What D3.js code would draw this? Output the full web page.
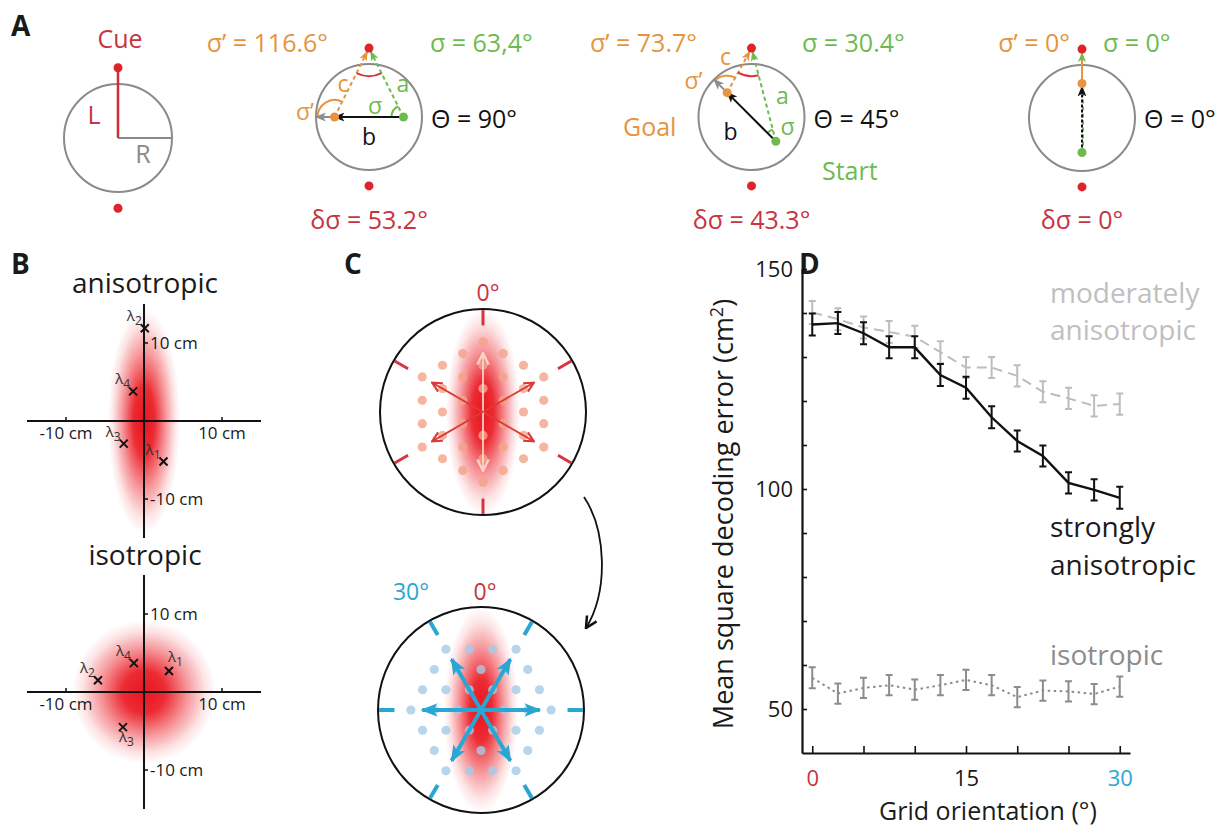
<!DOCTYPE html>
<html>
<head>
<meta charset="utf-8">
<script src="https://cdn.jsdelivr.net/npm/d3@7"></script>
<style>
  body { margin: 0; background: #fff; }
  svg text { font-family: "Open Sans", sans-serif; }
</style>
</head>
<body>
<svg id="fig"></svg>
<script>
/* DATA */
// panel A : three example trajectories
const thetaValues = [90, 45, 0];
const thetaLabels = ["Θ = 90°", "Θ = 45°", "Θ = 0°"];
const sigmaLabels = ["σ = 63,4°", "σ = 30.4°", "σ = 0°"];
const sigmaPrimeLabels = ["σ’ = 116.6°", "σ’ = 73.7°", "σ’ = 0°"];
const deltaSigmaLabels = ["δσ = 53.2°", "δσ = 43.3°", "δσ = 0°"];
const cueLength = 1.3;     // L, in units of R
const startOffset = 0.65;  // start / goal distance from centre, units of R

// panel B : field centres (cm)
const fieldNames = ["1", "2", "3", "4"];
const anisoX = [2.5, 0.1, -2.6, -1.4];
const anisoY = [-5.2, 11.9, -2.9, 3.8];
const isoX = [3.2, -5.9, -2.7, -1.3];
const isoY = [2.7, 1.5, -4.5, 3.7];
const bTicks = [-10, 10];

// panel C : grid orientations
const gridAngles = [0, 30];
const hexRadius = 3;

// panel D
const gridOrientation = [0, 2.5, 5, 7.5, 10, 12.5, 15, 17.5, 20, 22.5, 25, 27.5, 30];
const strongMean = [137.4, 137.7, 135.4, 132.2, 132.2, 125.9, 123.0, 116.3, 110.9, 107.5, 101.4, 99.8, 98.0];
const strongErr = [2.5, 2.5, 2.5, 2.5, 2.5, 2.5, 2.5, 2.5, 2.4, 2.4, 2.4, 2.4, 2.5];
const moderateMean = [140.1, 138.6, 136.7, 135.7, 134.6, 131.1, 127.6, 127.6, 125.7, 122.1, 120.6, 118.9, 119.3];
const moderateErr = [2.6, 2.5, 2.5, 2.5, 2.5, 2.5, 2.4, 2.4, 2.4, 2.4, 2.4, 2.4, 2.4];
const isoMean = [57.1, 53.5, 54.8, 55.4, 54.4, 55.4, 56.6, 55.4, 52.7, 54.2, 54.0, 53.4, 55.1];
const isoErr = [2.4, 2.3, 2.3, 2.3, 2.3, 2.3, 2.3, 2.3, 2.3, 2.3, 2.3, 2.3, 2.3];
const yTickValues = [50, 60, 70, 80, 90, 100, 110, 120, 130, 140, 150];
const yTickLabels = [50, 100, 150];
const xTickValues = [0, 5, 10, 15, 20, 25, 30];
const xTickLabels = [0, 15, 30];

/* COLOURS */
const red = "#e0222b", redText = "#c8343f", orange = "#e6943f", green = "#6dbb4f",
  gray = "#8a8a8a", cyan = "#2aa6d3", black = "#111";

const svg = d3.select("#fig").attr("width", 1218).attr("height", 828);
const defs = svg.append("defs");

function marker(id, color, size, open) {
  const m = defs.append("marker").attr("id", id)
    .attr("viewBox", "0 0 10 10").attr("refX", 9).attr("refY", 5)
    .attr("markerWidth", size).attr("markerHeight", size)
    .attr("markerUnits", "userSpaceOnUse").attr("orient", "auto");
  if (open) m.append("path").attr("d", "M1,1 L9,5 L1,9").attr("fill", "none")
    .attr("stroke", color).attr("stroke-width", 1.8);
  else m.append("path").attr("d", "M0,1 L10,5 L0,9 L2.5,5 Z").attr("fill", color);
}
marker("mBlack", black, 11);
marker("mGray", "#8d8d8d", 11);
marker("mGreen", green, 10);
marker("mOrange", orange, 10);
marker("mCyan", cyan, 17);
marker("mRed", "#dc3b35", 12, true);
marker("mPink", "#fbd2c6", 14, true);
marker("mCurve", black, 14, true);

function glow(id) {
  const g = defs.append("radialGradient").attr("id", id);
  [[0, 1], [0.3, 0.9], [0.6, 0.45], [0.85, 0.12], [1, 0]].forEach(([o, a]) =>
    g.append("stop").attr("offset", o).attr("stop-color", "#ea141d").attr("stop-opacity", a));
}
glow("redGlow");

function letter(t, x, y) {
  svg.append("text").attr("x", x).attr("y", y).text(t)
    .style("font-size", "28px").style("font-weight", 700).attr("fill", "#1a1a1a");
}
letter("A", 11, 36); letter("B", 11, 274); letter("C", 344, 274); letter("D", 799, 274);

/* PANEL A */
function txt(g, t, x, y, color, size, anchor) {
  return g.append("text").attr("x", x).attr("y", y).text(t).attr("fill", color)
    .style("font-size", size + "px").attr("text-anchor", anchor || "start");
}
const gA = svg.append("g");
// schematic circle
{
  const cx = 118, cy = 138, R = 54;
  const sx = d3.scaleLinear().domain([-1, 1]).range([cx - R, cx + R]);
  const sy = d3.scaleLinear().domain([-1, 1]).range([cy - R, cy + R]);
  gA.append("circle").attr("cx", cx).attr("cy", cy).attr("r", R)
    .attr("fill", "none").attr("stroke", gray).attr("stroke-width", 2);
  gA.append("line").attr("x1", sx(0)).attr("y1", sy(0)).attr("x2", sx(1)).attr("y2", sy(0))
    .attr("stroke", gray).attr("stroke-width", 2);
  gA.append("line").attr("x1", sx(0)).attr("y1", sy(0)).attr("x2", sx(0)).attr("y2", sy(-cueLength))
    .attr("stroke", "#d42b36").attr("stroke-width", 2.5);
  [-cueLength, cueLength].forEach(v => gA.append("circle").attr("cx", sx(0)).attr("cy", sy(v))
    .attr("r", 4.5).attr("fill", red));
  txt(gA, "Cue", 120, 48, redText, 25, "middle");
  txt(gA, "L", 94, 124, redText, 25, "middle");
  txt(gA, "R", 143, 163, gray, 25, "middle");
}

const caseCenters = [[369, 117], [751.5, 117], [1082, 118]];
const sigmaPrimeRight = [328, 697, 1070];
const sigmaLeft = [430, 802, 1103];
const smallLabelPos = [
  { c: [-26, -25], a: [34, -25], b: [0, 28], s: [6, -3], sp: [-64, 3] },
  { c: [-26, -52], a: [31, -13], b: [-21, 23], s: [36, 18], sp: [-58, -28] },
  null
];
function toward(p, q, d) { // point at distance d from q, toward p
  const dx = p[0] - q[0], dy = p[1] - q[1], L = Math.hypot(dx, dy);
  return [q[0] + dx / L * d, q[1] + dy / L * d];
}
function arcPath(c, r, p1, p2) {
  const a1 = Math.atan2(p1[1] - c[1], p1[0] - c[0]);
  const a2 = Math.atan2(p2[1] - c[1], p2[0] - c[0]);
  let diff = a2 - a1;
  while (diff > Math.PI) diff -= 2 * Math.PI;
  while (diff < -Math.PI) diff += 2 * Math.PI;
  const s = [c[0] + r * Math.cos(a1), c[1] + r * Math.sin(a1)];
  const e = [c[0] + r * Math.cos(a2), c[1] + r * Math.sin(a2)];
  return `M${s[0]},${s[1]} A${r},${r} 0 0 ${diff > 0 ? 1 : 0} ${e[0]},${e[1]}`;
}

thetaValues.forEach((theta, i) => {
  const [cx, cy] = caseCenters[i], R = 53;
  const sx = d3.scaleLinear().domain([-1, 1]).range([cx - R, cx + R]);
  const sy = d3.scaleLinear().domain([-1, 1]).range([cy - R, cy + R]);
  const t = theta * Math.PI / 180, d = [-Math.sin(t), -Math.cos(t)];
  const start = [sx(-startOffset * d[0]), sy(-startOffset * d[1])];
  const goal = [sx(startOffset * d[0]), sy(startOffset * d[1])];
  const edge = [sx(d[0]), sy(d[1])];
  const cue = [sx(0), sy(-cueLength)];
  const g = gA.append("g");

  g.append("circle").attr("cx", cx).attr("cy", cy).attr("r", R)
    .attr("fill", "none").attr("stroke", gray).attr("stroke-width", 2);

  if (theta !== 0) {
    const tipA = toward(start, cue, 4), tipC = toward(goal, cue, 4);
    g.append("line").attr("x1", start[0]).attr("y1", start[1]).attr("x2", tipA[0]).attr("y2", tipA[1])
      .attr("stroke", green).attr("stroke-width", 2).attr("stroke-dasharray", "4,3").attr("marker-end", "url(#mGreen)");
    g.append("line").attr("x1", goal[0]).attr("y1", goal[1]).attr("x2", tipC[0]).attr("y2", tipC[1])
      .attr("stroke", orange).attr("stroke-width", 2).attr("stroke-dasharray", "4,3").attr("marker-end", "url(#mOrange)");
    // angles
    g.append("path").attr("d", arcPath(cue, 28, start, goal)).attr("fill", "none").attr("stroke", "#d9343c").attr("stroke-width", 2);
    g.append("path").attr("d", arcPath(start, 12, goal, cue)).attr("fill", "none").attr("stroke", green).attr("stroke-width", 2);
    const ahead = [goal[0] + d[0] * 10, goal[1] + d[1] * 10];
    g.append("path").attr("d", arcPath(goal, 17, cue, ahead)).attr("fill", "none").attr("stroke", orange).attr("stroke-width", 2);
    // movement
    g.append("line").attr("x1", goal[0]).attr("y1", goal[1]).attr("x2", edge[0]).attr("y2", edge[1])
      .attr("stroke", "#8d8d8d").attr("stroke-width", 2).attr("marker-end", "url(#mGray)");
    g.append("line").attr("x1", start[0]).attr("y1", start[1]).attr("x2", goal[0]).attr("y2", goal[1])
      .attr("stroke", black).attr("stroke-width", 2).attr("marker-end", "url(#mBlack)");
    const p = smallLabelPos[i];
    txt(g, "c", cx + p.c[0], cy + p.c[1], orange, 23, "middle");
    txt(g, "a", cx + p.a[0], cy + p.a[1], green, 23, "middle");
    txt(g, "b", cx + p.b[0], cy + p.b[1], black, 23, "middle");
    txt(g, "σ", cx + p.s[0], cy + p.s[1], green, 23, "middle");
    txt(g, "σ’", cx + p.sp[0], cy + p.sp[1], orange, 23, "middle");
  } else {
    const tip = toward(goal, cue, 4);
    g.append("line").attr("x1", goal[0]).attr("y1", goal[1]).attr("x2", tip[0]).attr("y2", tip[1])
      .attr("stroke", orange).attr("stroke-width", 2).attr("marker-end", "url(#mGreen)");
    g.append("line").attr("x1", start[0] + 1).attr("y1", start[1]).attr("x2", goal[0] + 1).attr("y2", goal[1] + 6)
      .attr("stroke", green).attr("stroke-width", 2).attr("stroke-dasharray", "4,3");
    g.append("line").attr("x1", start[0]).attr("y1", start[1]).attr("x2", goal[0]).attr("y2", goal[1] + 3)
      .attr("stroke", black).attr("stroke-width", 2).attr("stroke-dasharray", "3,2").attr("marker-end", "url(#mBlack)");
  }
  g.append("circle").attr("cx", cue[0]).attr("cy", cue[1]).attr("r", 4.5).attr("fill", red);
  g.append("circle").attr("cx", sx(0)).attr("cy", sy(cueLength)).attr("r", 4.5).attr("fill", red);
  g.append("circle").attr("cx", start[0]).attr("cy", start[1]).attr("r", 4.5).attr("fill", green);
  g.append("circle").attr("cx", goal[0]).attr("cy", goal[1]).attr("r", 4.5).attr("fill", orange);

  txt(g, sigmaPrimeLabels[i], sigmaPrimeRight[i], 52, orange, 25, "end");
  txt(g, sigmaLabels[i], sigmaLeft[i], 52, green, 25, "start");
  txt(g, thetaLabels[i], cx + 62, 128, black, 25, "start");
  txt(g, deltaSigmaLabels[i], cx, 229, redText, 25, "middle");
  if (theta === 45) {
    txt(g, "Goal", 623, 136, orange, 25, "start");
    txt(g, "Start", 822, 180, green, 25, "start");
  }
});

/* PANEL B */
function fieldPanel(oy, title, titleY, xs, ys, rx, ry, labelPos) {
  const g = svg.append("g");
  const x = d3.scaleLinear().domain([-15, 15]).range([27, 261]);
  const y = d3.scaleLinear().domain([-15, 15]).range([oy + 117, oy - 117]);
  txt(g, title, 145, titleY, "#1a1a1a", 28, "middle");
  g.append("ellipse").attr("cx", x(0)).attr("cy", y(0))
    .attr("rx", x(rx) - x(0)).attr("ry", y(0) - y(ry)).attr("fill", "url(#redGlow)");
  g.append("line").attr("x1", x(-15)).attr("x2", x(15)).attr("y1", y(0)).attr("y2", y(0))
    .attr("stroke", black).attr("stroke-width", 2);
  g.append("line").attr("x1", x(0)).attr("x2", x(0)).attr("y1", y(15)).attr("y2", y(-15))
    .attr("stroke", black).attr("stroke-width", 2);
  bTicks.forEach(v => {
    g.append("line").attr("x1", x(v)).attr("x2", x(v)).attr("y1", y(0)).attr("y2", y(0) - 4).attr("stroke", black).attr("stroke-width", 1.5);
    g.append("line").attr("x1", x(0)).attr("x2", x(0) + 4).attr("y1", y(v)).attr("y2", y(v)).attr("stroke", black).attr("stroke-width", 1.5);
    txt(g, v + " cm", x(v), y(0) + 18, "#1a1a1a", 17, "middle");
    txt(g, v + " cm", x(0) + 6, y(v) + 6, "#1a1a1a", 17, "start");
  });
  xs.forEach((v, k) => {
    const px = x(v), py = y(ys[k]);
    g.append("path").attr("d", `M${px - 4},${py - 4}L${px + 4},${py + 4}M${px - 4},${py + 4}L${px + 4},${py - 4}`)
      .attr("stroke", black).attr("stroke-width", 2);
    const pos = labelPos[k];
    let lx = px - 3, ly = py - 7, anchor = "end";
    if (pos === "ur") { lx = px - 1; ly = py - 9; anchor = "start"; }
    if (pos === "below") { lx = px - 4; ly = py + 15; anchor = "start"; }
    const t = g.append("text").attr("x", lx).attr("y", ly).attr("text-anchor", anchor)
      .attr("fill", "#333").style("font-size", "15px");
    t.append("tspan").text("λ");
    t.append("tspan").attr("dy", 4).style("font-size", "12px").text(fieldNames[k]);
  });
}
fieldPanel(421, "anisotropic", 293, anisoX, anisoY, 4.6, 14.5, ["ul", "ul", "ul", "ul"]);
fieldPanel(692, "isotropic", 565, isoX, isoY, 9.2, 9.2, ["ur", "ul", "below", "ul"]);

/* PANEL C */
const cCenters = [[483, 412], [481, 710]];
gridAngles.forEach((ang, i) => {
  const [cx, cy] = cCenters[i], r = 103;
  const sx = d3.scaleLinear().domain([-1, 1]).range([cx - r, cx + r]);
  const sy = d3.scaleLinear().domain([-1, 1]).range([cy - r, cy + r]);
  const g = svg.append("g");
  const tickColor = i === 0 ? "#d9333f" : cyan;
  const dotColor = i === 0 ? "#f3a48a" : "#a5cbe6";
  const dir = phi => [Math.sin(phi * Math.PI / 180), -Math.cos(phi * Math.PI / 180)];

  g.append("ellipse").attr("cx", sx(0)).attr("cy", sy(0))
    .attr("rx", sx(0.36) - sx(0)).attr("ry", sy(1.0) - sy(0)).attr("fill", "url(#redGlow)");

  // hexagonal lattice of grid fields
  const sp = 0.227, a1 = dir(ang), a2 = dir(ang + 60), pts = [];
  for (let m = -hexRadius; m <= hexRadius; m++)
    for (let n = -hexRadius; n <= hexRadius; n++)
      if (Math.abs(m + n) <= hexRadius && !(m === 0 && n === 0))
        pts.push([sp * (m * a1[0] + n * a2[0]), sp * (m * a1[1] + n * a2[1])]);
  g.selectAll(".dot").data(pts).join("circle")
    .attr("cx", p => sx(p[0])).attr("cy", p => sy(p[1])).attr("r", 4.6)
    .attr("fill", dotColor).attr("fill-opacity", 0.8);

  g.append("circle").attr("cx", cx).attr("cy", cy).attr("r", r)
    .attr("fill", "none").attr("stroke", black).attr("stroke-width", 2);

  for (let k = 0; k < 6; k++) {
    const u = dir(ang + k * 60);
    g.append("line").attr("x1", sx(u[0] * 0.84)).attr("y1", sy(u[1] * 0.84))
      .attr("x2", sx(u[0] * 0.99)).attr("y2", sy(u[1] * 0.99))
      .attr("stroke", tickColor).attr("stroke-width", i === 0 ? 3 : 4);
    const vertical = i === 0 && (k === 0 || k === 3);
    g.append("line").attr("x1", sx(0)).attr("y1", sy(0))
      .attr("x2", sx(u[0] * 0.57)).attr("y2", sy(u[1] * 0.57))
      .attr("stroke", i === 0 ? (vertical ? "#fbd2c6" : "#dc3b35") : cyan)
      .attr("stroke-width", i === 0 ? 1.8 : 4)
      .attr("marker-end", i === 0 ? (vertical ? "url(#mPink)" : "url(#mRed)") : "url(#mCyan)");
  }
});
txt(svg, "0°", 488, 301, redText, 23, "middle");
txt(svg, "30°", 411, 600, cyan, 23, "middle");
txt(svg, "0°", 485, 600, redText, 23, "middle");
svg.append("path").attr("d", "M584,497 C606,530 609,590 586,628")
  .attr("fill", "none").attr("stroke", black).attr("stroke-width", 1.8).attr("marker-end", "url(#mCurve)");

/* PANEL D */
const xD = d3.scaleLinear().domain([-1, 31]).range([802, 1130]);
const yD = d3.scaleLinear().domain([40, 150]).range([753, 269]);

const gy = svg.append("g").attr("transform", "translate(802,0)")
  .call(d3.axisLeft(yD).tickValues(yTickValues).tickSizeInner(-5).tickSizeOuter(0).tickPadding(9)
    .tickFormat(d => yTickLabels.includes(d) ? d : ""));
const gx = svg.append("g").attr("transform", "translate(0,753)")
  .call(d3.axisBottom(xD).tickValues(xTickValues).tickSizeInner(-7).tickSizeOuter(0).tickPadding(17)
    .tickFormat(d => xTickLabels.includes(d) ? d : ""));
[gx, gy].forEach(a => {
  a.select(".domain").attr("stroke", black).attr("stroke-width", 2.2);
  a.selectAll(".tick line").attr("stroke", black).attr("stroke-width", 1.6);
  a.selectAll(".tick text").style("font-size", "22px").attr("fill", "#1a1a1a");
});
gx.selectAll(".tick text").attr("fill", d => d === 0 ? redText : d === 30 ? "#2aa7cf" : "#1a1a1a");

const yl = svg.append("text").attr("transform", "translate(733,514) rotate(-90)")
  .attr("text-anchor", "middle").attr("fill", "#1a1a1a").style("font-size", "27px");
yl.append("tspan").text("Mean square decoding error (cm");
yl.append("tspan").attr("dy", -10).style("font-size", "18px").text("2");
yl.append("tspan").attr("dy", 10).text(")");
txt(svg, "Grid orientation (°)", 988, 820, "#1a1a1a", 25, "middle");

const series = [
  { mean: moderateMean, err: moderateErr, color: "#bdbdbd", dash: "10,6", width: 2 },
  { mean: strongMean, err: strongErr, color: black, dash: null, width: 2.4 },
  { mean: isoMean, err: isoErr, color: "#8c8c8c", dash: "2.5,3.5", width: 2 }
];
const line = d3.line().x((d, k) => xD(gridOrientation[k])).y(d => yD(d));
series.forEach(s => {
  const g = svg.append("g");
  g.append("path").datum(s.mean).attr("d", line).attr("fill", "none")
    .attr("stroke", s.color).attr("stroke-width", s.width).attr("stroke-dasharray", s.dash);
  s.mean.forEach((m, k) => {
    const x = xD(gridOrientation[k]);
    g.append("path")
      .attr("d", `M${x},${yD(m - s.err[k])}V${yD(m + s.err[k])}M${x - 3.5},${yD(m - s.err[k])}h7M${x - 3.5},${yD(m + s.err[k])}h7`)
      .attr("stroke", s.color).attr("stroke-width", 2).attr("fill", "none");
  });
});
txt(svg, "moderately", 1050, 303, "#bfbfbf", 28);
txt(svg, "anisotropic", 1050, 340, "#bfbfbf", 28);
txt(svg, "strongly", 1050, 537, "#1a1a1a", 28);
txt(svg, "anisotropic", 1050, 575, "#1a1a1a", 28);
txt(svg, "isotropic", 1050, 665, "#8c8c8c", 28);
</script>
</body>
</html>
